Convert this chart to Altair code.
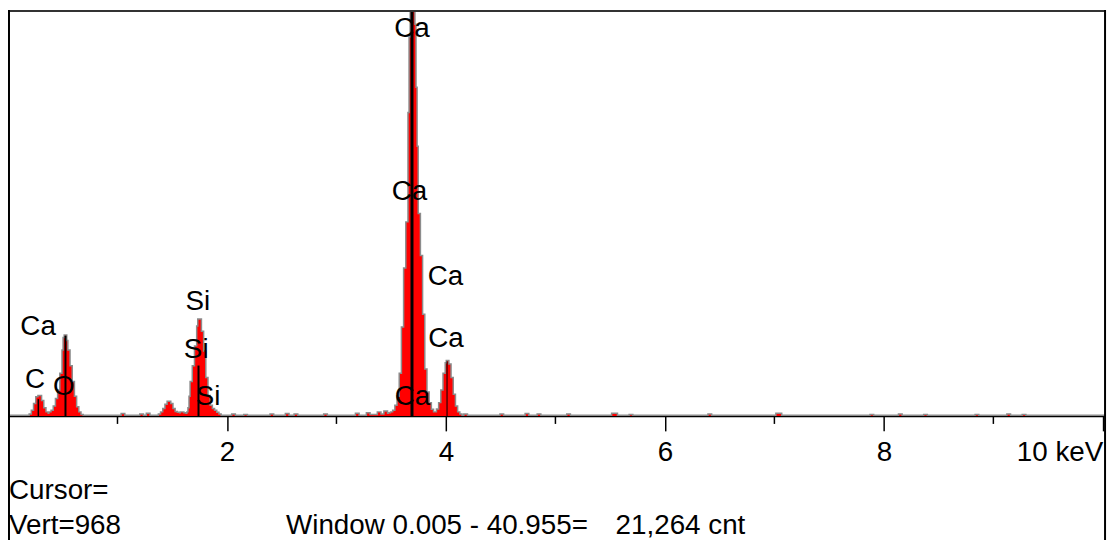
import altair as alt
import pandas as pd

# ---- spectrum (keV, counts) ----
energy = [
    0.00, 0.18, 0.20, 0.22, 0.24, 0.26, 0.28, 0.30, 0.32, 0.34, 0.36, 0.38,
    0.40, 0.42, 0.44, 0.46, 0.48, 0.50, 0.51, 0.52, 0.53, 0.54, 0.56, 0.58,
    0.60, 0.62, 0.64, 0.66, 0.68,
    1.04, 1.06, 1.21, 1.23, 1.27, 1.29,
    1.38, 1.40, 1.42, 1.44, 1.46, 1.48, 1.50, 1.52, 1.54, 1.56, 1.58, 1.60, 1.62,
    1.64, 1.65, 1.66, 1.67, 1.69, 1.71, 1.73, 1.74, 1.76, 1.78, 1.80, 1.82,
    1.84, 1.86, 1.88, 1.90, 1.92, 1.94,
    2.05, 2.07, 2.16, 2.18, 2.40, 2.42, 2.54, 2.56, 2.62, 2.64, 2.89, 2.91,
    3.18, 3.20, 3.28, 3.30, 3.38, 3.40, 3.44, 3.46,
    3.48, 3.50, 3.52, 3.54, 3.56, 3.58, 3.60, 3.62, 3.64, 3.66, 3.67, 3.68,
    3.69, 3.70, 3.71, 3.72, 3.73, 3.74, 3.76, 3.78, 3.80, 3.82, 3.84, 3.86,
    3.88, 3.90,
    3.92, 3.94, 3.96, 3.98, 4.00, 4.01, 4.02, 4.04, 4.06, 4.08, 4.10, 4.12, 4.14,
    4.17, 4.19, 4.50, 4.52, 4.73, 4.75, 4.84, 4.86, 5.11, 5.13, 5.52, 5.56,
    5.68, 5.70, 6.40, 6.42, 7.02, 7.06, 7.88, 7.90, 8.14, 8.16, 8.37, 8.39,
    8.84, 8.86, 9.13, 9.15, 9.27, 9.29, 10.02,
]
counts = [
    0, 0, 3, 12, 28, 44, 47, 35, 18, 8, 5, 8,
    12, 22, 40, 60, 100, 155, 185, 191, 178, 155, 118, 80,
    45, 20, 8, 2, 0,
    4, 0, 3, 0, 5, 0,
    3, 8, 16, 26, 33, 28, 16, 9, 7, 6, 8, 6, 5,
    8, 18, 45, 80, 118, 165, 212, 229, 200, 153, 90, 47,
    24, 16, 12, 7, 3, 0,
    3, 0, 2, 0, 3, 0, 4, 0, 3, 0, 3, 0,
    5, 0, 6, 2, 8, 3, 10, 5,
    6, 8, 12, 24, 45, 100, 210, 350, 460, 720, 900, 1000,
    1050, 1000, 930, 780, 640, 480, 380, 240, 110, 55, 30, 14,
    8, 8,
    15, 30, 60, 100, 125, 130, 122, 90, 50, 22, 8, 3, 0,
    3, 0, 3, 0, 4, 0, 3, 0, 3, 0, 5, 0,
    2, 0, 3, 0, 5, 0, 2, 0, 3, 0, 2, 0,
    2, 0, 3, 0, 2, 0, 0,
]

# ---- peak marker lines ----
line_kev = [0.277, 0.525, 1.74, 3.69, 4.01]
line_top = [40, 191, 120, 966, 130]
line_w = [1.5, 2, 2, 3, 1]

# ---- peak labels ----
label_text = ["Ca", "Ca", "Ca", "Ca", "Ca", "Si", "Si", "Si", "Ca", "C", "O"]
label_kev = [3.69, 3.667, 3.995, 4.00, 3.695, 1.733, 1.719, 1.828, 0.275, 0.246, 0.509]
label_cnt = [921, 532, 330, 184, 46, 272, 158, 45, 211, 85, 69]

# ---- axis ticks ----
major_ticks = [2, 4, 6, 8, 10]
minor_ticks = [1, 3, 5, 7, 9]

FONT = "Liberation Sans"
FS = 28
W, H = 1105, 409

spec = pd.DataFrame({"keV": energy, "cnt": counts})
lines = pd.DataFrame({"keV": line_kev, "cnt": [0] * len(line_kev), "top": line_top, "w": line_w})
labels = pd.DataFrame({"keV": label_kev, "cnt": label_cnt, "t": label_text})
minor = pd.DataFrame({"keV": minor_ticks})

xs = alt.Scale(domain=[0, 10.02], nice=False, zero=False)
ys = alt.Scale(domain=[0, 966], nice=False)
xaxis = alt.Axis(
    values=major_ticks,
    title=None,
    grid=False,
    domainColor="black",
    domainWidth=1.5,
    tickColor="black",
    tickWidth=1.5,
    tickSize=15,
    labelFont=FONT,
    labelFontSize=FS,
    labelColor="black",
    labelPadding=8,
    labelOverlap=False,
    labelFlush=False,
    labelBound=False,
    labelExpr="datum.value == 10 ? '10 keV' : datum.label",
    labelAlign={"condition": {"test": "datum.value == 10", "value": "right"}, "value": "center"},
)
X = alt.X("keV:Q", scale=xs, axis=xaxis)
Y = alt.Y("cnt:Q", scale=ys, axis=None)

outline = alt.Chart(spec).mark_line(
    color="#8c8c8c", strokeWidth=3, interpolate="step-after", clip=True
).encode(x=X, y=Y)

area = alt.Chart(spec).mark_area(
    color="#ff0000", interpolate="step-after", clip=True
).encode(x=X, y=Y)

markers = alt.Chart(lines).mark_rule(color="black").encode(
    x=X, y=Y, y2="top:Q", strokeWidth=alt.StrokeWidth("w:Q", scale=None)
)

peak_labels = alt.Chart(labels).mark_text(
    font=FONT, fontSize=FS, color="black", align="center", baseline="middle"
).encode(x=X, y=Y, text="t:N")

minor_rules = alt.Chart(minor).mark_rule(color="black", strokeWidth=1.5).encode(
    x=X, y=alt.value(H), y2=alt.value(H + 8)
)

one = alt.Data(values=[{}])
frame_top = alt.Chart(one).mark_rule(color="#333333", strokeWidth=2).encode(
    x=alt.value(0), x2=alt.value(W), y=alt.value(1)
)
frame_left = alt.Chart(one).mark_rule(color="black", strokeWidth=2).encode(
    x=alt.value(1), y=alt.value(0), y2=alt.value(H + 125)
)
frame_right = alt.Chart(one).mark_rule(color="black", strokeWidth=2).encode(
    x=alt.value(W), y=alt.value(0), y2=alt.value(H + 125)
)

def note(txt, px, py):
    return alt.Chart(one).mark_text(
        font=FONT, fontSize=FS, color="black", align="left", baseline="alphabetic"
    ).encode(x=alt.value(px), y=alt.value(py), text=alt.value(txt))

notes = [
    note("Cursor=", 1, 493),
    note("Vert=968", 1, 528),
    note("Window 0.005 - 40.955=", 280, 528),
    note("21,264 cnt", 612, 528),
]

chart = alt.layer(
    outline, area, markers, peak_labels, minor_rules,
    frame_top, frame_left, frame_right, *notes
).properties(
    width=W, height=H,
    autosize=alt.AutoSizeParams(type="none"),
    padding={"left": 0, "top": 0, "right": 6, "bottom": 125},
    background="white",
).configure_view(stroke=None)

chart.save("out.html", embed_options={"renderer": "svg", "actions": False})
